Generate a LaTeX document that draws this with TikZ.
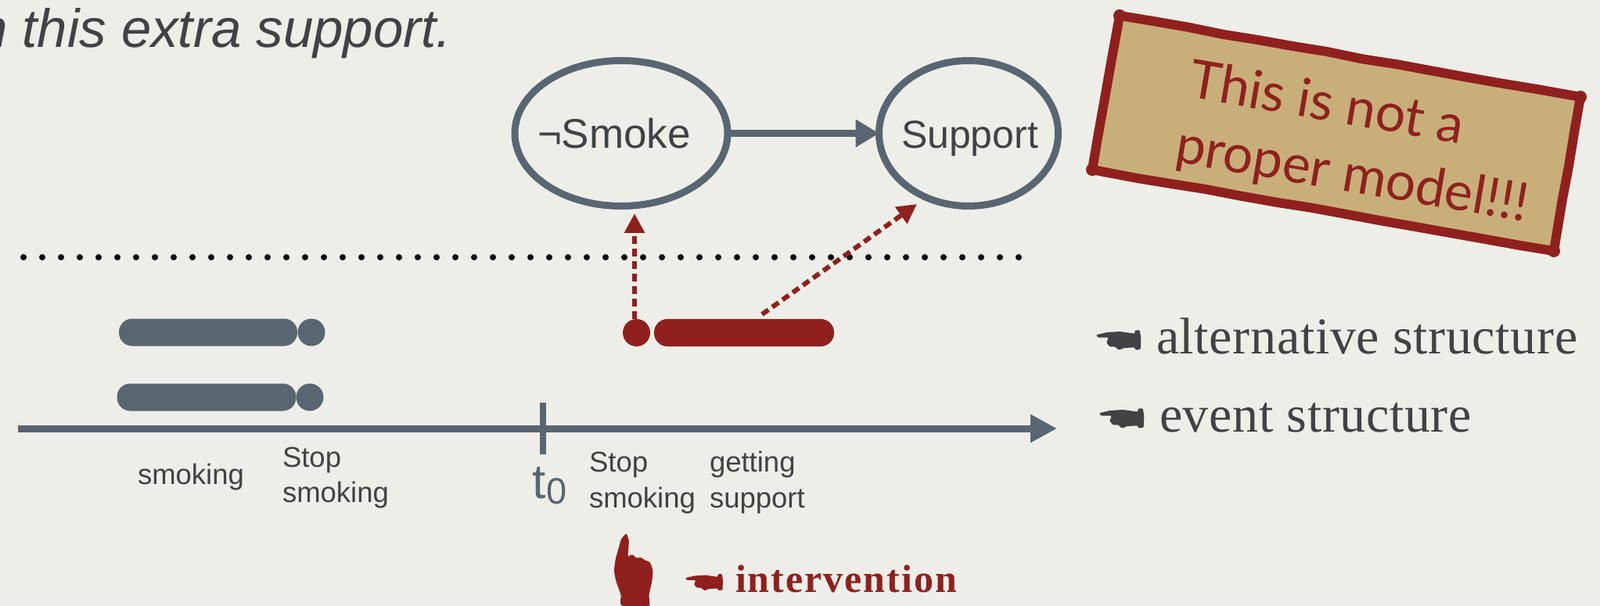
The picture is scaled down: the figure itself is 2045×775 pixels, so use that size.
\documentclass[tikz,border=0pt]{standalone}
\usepackage{fontspec}
\usetikzlibrary{arrows.meta,shapes.geometric,decorations.pathmorphing}
\setmainfont{Liberation Sans}
\newfontfamily\stampfont{Lato}
\newfontfamily\bookfont[LetterSpace=1]{Liberation Serif}
\newfontfamily\boldbookfont[LetterSpace=4]{Liberation Serif}
\definecolor{paper}{HTML}{EEEEE8}
\definecolor{slate}{HTML}{586672}
\definecolor{ink}{HTML}{404244}
\definecolor{brick}{HTML}{8F201E}
\definecolor{tan}{HTML}{C8AF7A}
\newcommand{\fs}[1]{\fontsize{#1}{#1}\selectfont}
\tikzset{
  every node/.style={inner sep=0pt,outer sep=0pt},
  label/.style={anchor=base west,text=ink,font=\fs{36.5}},
  varnode/.style={draw=slate,line width=9pt,ellipse,text=ink,font=\fs{50}},
  barnode/.style={rectangle,rounded corners=17pt,minimum height=35pt},
  dotnode/.style={circle,minimum size=35pt},
  causal/.style={draw=brick,line width=6pt,dash pattern=on 10pt off 6pt,
    -{Triangle[length=25pt,width=25pt,fill=brick]}},
  stamptext/.style={anchor=base west,rotate=-9.7,text=brick,font=\stampfont\fs{68}},
  booktext/.style={anchor=base west,text=ink,font=\bookfont\fs{66}},
  pics/manicule/.style={code={
    \fill[pic actions,rounded corners=1pt]
      (18,40) -- (60,30) -- (110,27) -- (165,35) -- (168,22) -- (185,22)
      -- (190,50) -- (188,95) -- (170,98) -- (165,88) -- (125,90) -- (105,98)
      -- (90,85) -- (70,85) -- (58,70) -- (65,50) -- (25,50) -- cycle;
  }},
  pics/uphand/.style={code={
    \fill[pic actions,rounded corners=2pt]
      (92,20) -- (72,42) -- (50,120) -- (44,165) -- (52,205) -- (72,260) -- (68,283)
      -- (72,300) -- (182,300) -- (178,258) -- (190,205) -- (194,165) -- (182,130)
      -- (162,125) -- (148,112) -- (130,118) -- (115,100) -- (97,112) -- (102,50) -- cycle;
  }},
}
\begin{document}
\begin{tikzpicture}[x=1pt,y=-1pt]
\useasboundingbox (0,0) rectangle (2045,775);
\clip (0,0) rectangle (2045,775);
\fill[paper] (0,0) rectangle (2045,775);

% slide text
\node[anchor=base east,text=ink,font=\fs{69}\itshape] (title) at (577,61) {n this extra support.};

% causal model
\node[varnode,minimum width=272pt,minimum height=186pt] (smoke) at (794,170.5) {};
\node[varnode,minimum width=229pt,minimum height=186pt] (support) at (1238,170.5) {};
\node[anchor=base west,text=ink,font=\fs{53}] (smoketext) at (687,190) {¬Smoke};
\node[anchor=base west,text=ink,font=\fs{50}] (supporttext) at (1152,190) {Support};
\draw[slate,line width=9pt,-{Triangle[length=30pt,width=34pt]}] (smoke.east) -- (support.west);

% divider
\coordinate (dotl) at (30,329);
\coordinate (dotr) at (1304,329);
\draw[black,line width=8pt,line cap=round,dash pattern=on 0pt off 24pt] (dotl) -- (dotr);

% alternative structure bars
\node[barnode,fill=slate,minimum width=228pt] (altbar) at (266,425) {};
\node[dotnode,fill=slate] (altdot) at (398,425) {};
\node[barnode,fill=slate,minimum width=229pt] (evbar) at (264,508) {};
\node[dotnode,fill=slate] (evdot) at (396,508) {};
\node[dotnode,fill=brick] (reddot) at (813.5,425.5) {};
\node[barnode,fill=brick,minimum width=230pt] (redbar) at (951,425.5) {};

% interventional arrows
\coordinate (tipa) at (811,273);
\coordinate (tipb) at (1172,261);
\draw[causal] ([xshift=-2.5pt]reddot.north) -- (tipa);
\draw[causal] ([shift={(23pt,6pt)}]redbar.north) -- (tipb);

% time axis
\coordinate (axl) at (23,548);
\coordinate (axr) at (1351,548);
\coordinate (ticka) at (694,515);
\coordinate (tickb) at (694,581);
\draw[slate,line width=9pt,-{Triangle[length=34pt,width=34pt]}] (axl) -- (axr);
\draw[slate,line width=8pt] (ticka) -- (tickb);
\node[anchor=base west,text=slate,font=\fs{62}] (tzero) at (680,637) {t};
\node[anchor=base west,text=slate,font=\fs{47}] (tsub) at (698,644) {0};

\node[label] (l1) at (176,619) {smoking};
\node[label] (l2) at (361,597) {Stop};
\node[label] (l3) at (361,642) {smoking};
\node[label] (l4) at (753,603) {Stop};
\node[label] (l5) at (753,649) {smoking};
\node[label] (l6) at (907,603) {getting};
\node[label] (l7) at (907,649) {support};

% stamp
\draw[brick,fill=tan,line width=12pt,line join=round,
  decorate,decoration={random steps,segment length=45pt,amplitude=0.8pt}]
  (1431,20) -- (2020,124) -- (1986,321) -- (1396,217) -- cycle;
\fill[brick] (1431,20) circle (8pt) (2020,124) circle (8pt) (1986,321) circle (8pt) (1396,217) circle (8pt);
\node[stamptext] (st1) at (1517,124) {This is not a};
\node[stamptext] (st2) at (1500,207) {proper model!!!};

% side notes
\pic[fill=ink,scale=0.3333] at (1395,415) {manicule};
\node[booktext] (alt) at (1478,452) {alternative structure};
\pic[fill=ink,scale=0.3333] at (1399,515) {manicule};
\node[booktext] (ev) at (1482,552) {event structure};
\pic[fill=brick,scale=0.279] at (871,728) {manicule};
\node[anchor=base west,text=brick,font=\boldbookfont\bfseries\fs{50}] (int) at (940,757) {intervention};
\pic[fill=brick,scale=0.3333] at (770,675) {uphand};
\end{tikzpicture}
\end{document}
